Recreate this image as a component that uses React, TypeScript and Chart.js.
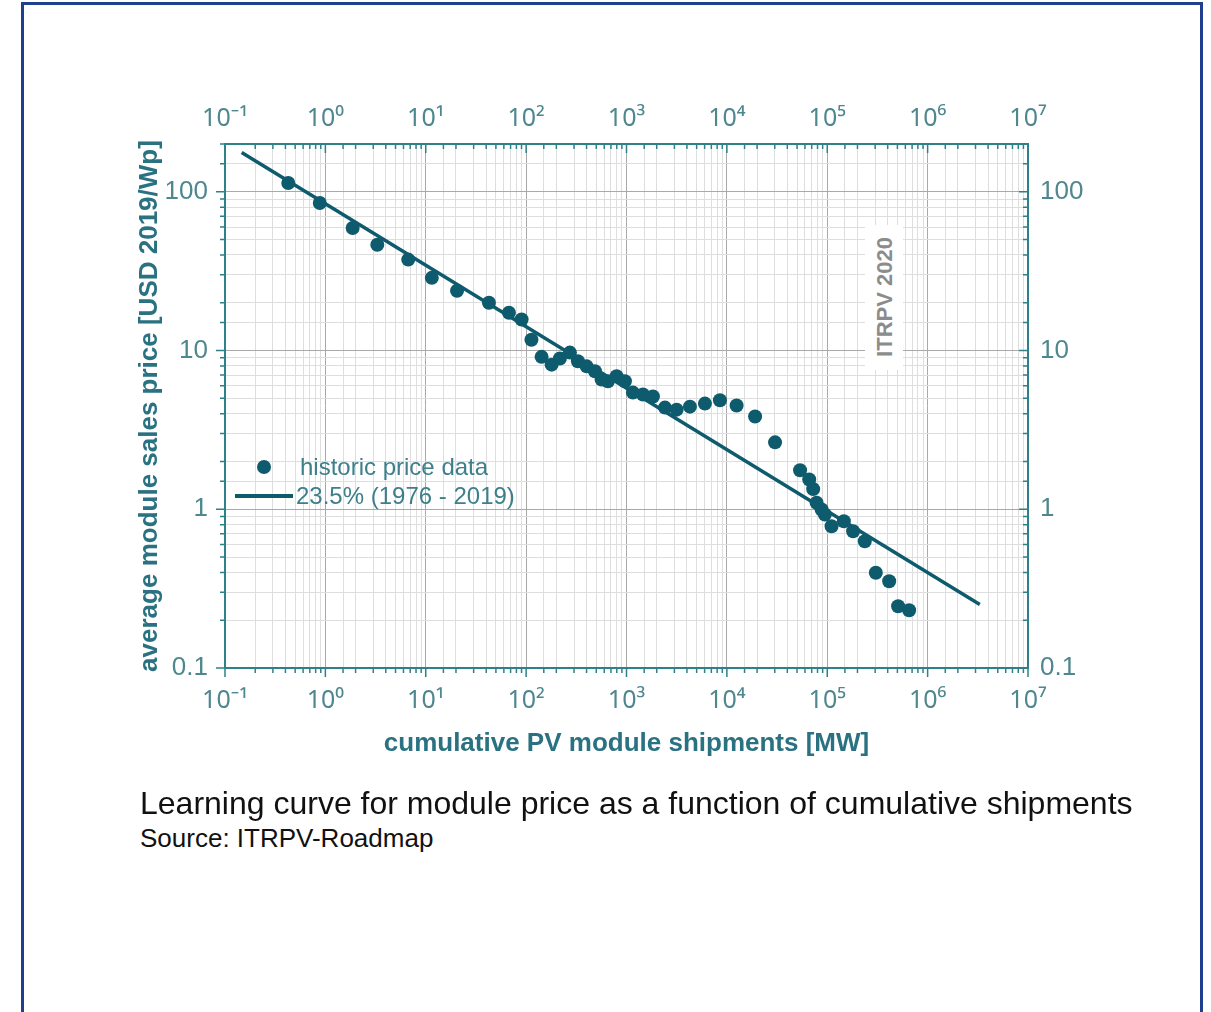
import React, { useEffect, useRef } from 'react';
import { Chart, registerables } from 'chart.js';

Chart.register(...registerables);

// Historic data
const shipmentsMW = [
  0.427, 0.88, 1.87, 3.29, 6.69, 11.5, 20.5, 42.6, 67.4, 90.2,
  113, 142.6, 179.5, 217, 273, 328, 401, 485, 565, 653,
  797, 964, 1159, 1459, 1834, 2415, 3158, 4285, 6044, 8530,
  12500, 19100, 30200, 53600, 66100, 72400, 78300, 87800, 94700, 110400,
  146300, 181000, 236600, 304600, 413800, 508000, 654000,
];
const priceUSD = [
  113.6, 85, 59.2, 46.4, 37.4, 28.7, 23.8, 20, 17.3, 15.7,
  11.7, 9.12, 8.15, 8.9, 9.7, 8.55, 7.95, 7.4, 6.56, 6.4,
  6.88, 6.4, 5.43, 5.28, 5.13, 4.37, 4.24, 4.43, 4.63, 4.86,
  4.5, 3.84, 2.64, 1.76, 1.54, 1.34, 1.1, 0.996, 0.926, 0.782,
  0.84, 0.727, 0.629, 0.398, 0.352, 0.245, 0.231,
];
// Learning-curve fit line (23.5 %)
const fitShipmentsMW = [0.1466, 3.31e6];
const fitPriceUSD = [177, 0.251];

const seriesLabels = ['historic price data', '23.5% (1976 - 2019)'];

const xTickValues = [0.1, 1, 10, 100, 1e3, 1e4, 1e5, 1e6, 1e7];
const xTickLabels = ['10⁻¹', '10⁰', '10¹', '10²', '10³', '10⁴', '10⁵', '10⁶', '10⁷'];
const yTickValues = [0.1, 1, 10, 100];
const yTickLabels = ['0.1', '1', '10', '100'];

const xTitle = 'cumulative PV module shipments [MW]';
const yTitle = 'average module sales price [USD 2019/Wp]';
const watermark = 'ITRPV 2020';
const captionTitle = 'Learning curve for module price as a function of cumulative shipments';
const captionSource = 'Source: ITRPV-Roadmap';

const FONT = '"Liberation Sans", Arial, sans-serif';
const SUP_FONT = '"Noto Sans", "DejaVu Sans", sans-serif';
const MARK = '#0e5b6e';
const AXIS = '#2f8189';
const TICK_TXT = '#4f878f';
const TITLE_TXT = '#2a7282';
const LEGEND_TXT = '#3d7f8a';
const GRID_MAJOR = '#a9a9a9';
const GRID_MINOR = '#dedede';

const isMajor = (v: number) => {
  const l = Math.log10(v);
  return Math.abs(l - Math.round(l)) < 1e-6;
};

const labelFor = (values: number[], labels: string[]) => (value: any) => {
  const v = Number(value);
  const i = values.findIndex((t) => Math.abs(Math.log10(t) - Math.log10(v)) < 1e-6);
  return i >= 0 ? labels[i] : '';
};

const tickMarksPlugin = {
  id: 'tickMarks',
  afterDraw(chart: any) {
    const ctx = chart.ctx;
    const { left, right, top, bottom } = chart.chartArea;
    ctx.save();
    ctx.strokeStyle = AXIS;
    ctx.lineWidth = 1.5;
    ctx.beginPath();
    const each = (id: string, fn: (p: number, len: number) => void) => {
      const s = chart.scales[id];
      s.ticks.forEach((t: any) => {
        const p = s.getPixelForValue(t.value);
        fn(p, isMajor(t.value) ? 9 : 5);
      });
    };
    each('x', (p, len) => { ctx.moveTo(p, bottom); ctx.lineTo(p, bottom + len); });
    each('x2', (p, len) => { ctx.moveTo(p, top); ctx.lineTo(p, top + len); });
    each('y', (p, len) => { ctx.moveTo(left, p); ctx.lineTo(left - len, p); });
    each('y2', (p, len) => { ctx.moveTo(right, p); ctx.lineTo(right - len, p); });
    ctx.stroke();
    ctx.restore();
  },
};

export default function App() {
  const canvasRef = useRef<HTMLCanvasElement | null>(null);

  useEffect(() => {
    if (!canvasRef.current) return;
    const tickFont = { family: FONT, size: 26 };
    const xTickFont = { family: SUP_FONT, size: 25 };
    const titleFont = { family: FONT, size: 26, weight: 'bold' as const };
    const gridColor = (ctx: any) => (ctx.tick && isMajor(ctx.tick.value) ? GRID_MAJOR : GRID_MINOR);

    const chart = new Chart(canvasRef.current, {
      type: 'scatter',
      data: {
        datasets: [
          {
            label: seriesLabels[0],
            data: shipmentsMW.map((x, i) => ({ x, y: priceUSD[i] })),
            backgroundColor: MARK,
            borderColor: MARK,
            pointRadius: 7,
            pointBorderWidth: 0,
            showLine: false,
          },
          {
            label: seriesLabels[1],
            data: fitShipmentsMW.map((x, i) => ({ x, y: fitPriceUSD[i] })),
            borderColor: MARK,
            backgroundColor: MARK,
            borderWidth: 3.5,
            pointRadius: 0,
            showLine: true,
          },
        ],
      },
      options: {
        responsive: false,
        animation: false,
        layout: { padding: { left: 130, right: 50, top: 60, bottom: 32 } },
        plugins: { legend: { display: false }, tooltip: { enabled: false } },
        scales: {
          x: {
            type: 'logarithmic',
            position: 'bottom',
            min: 0.1,
            max: 1e7,
            grid: { color: gridColor, lineWidth: 1, drawTicks: false },
            border: { display: true, color: AXIS, width: 2 },
            ticks: { autoSkip: false, maxRotation: 0, padding: 18, color: TICK_TXT, font: xTickFont, callback: labelFor(xTickValues, xTickLabels) },
            title: { display: true, text: xTitle, color: TITLE_TXT, font: titleFont, padding: { top: 0, bottom: 9 } },
            afterFit: (s: any) => { s.height = 100; },
          },
          x2: {
            type: 'logarithmic',
            position: 'top',
            min: 0.1,
            max: 1e7,
            grid: { display: false, drawTicks: false },
            border: { display: true, color: AXIS, width: 2 },
            ticks: { autoSkip: false, maxRotation: 0, padding: 10, color: TICK_TXT, font: xTickFont, callback: labelFor(xTickValues, xTickLabels) },
            afterFit: (s: any) => { s.height = 84; },
          },
          y: {
            type: 'logarithmic',
            position: 'left',
            min: 0.1,
            max: 200,
            grid: { color: gridColor, lineWidth: 1, drawTicks: false },
            border: { display: true, color: AXIS, width: 2 },
            ticks: { autoSkip: false, padding: 17, color: TICK_TXT, font: tickFont, callback: labelFor(yTickValues, yTickLabels) },
            title: { display: true, text: yTitle, color: TITLE_TXT, font: titleFont, padding: { top: 4, bottom: 0 } },
            afterFit: (s: any) => { s.width = 95; },
          },
          y2: {
            type: 'logarithmic',
            position: 'right',
            min: 0.1,
            max: 200,
            grid: { display: false, drawTicks: false },
            border: { display: true, color: AXIS, width: 2 },
            ticks: { autoSkip: false, padding: 12, color: TICK_TXT, font: tickFont, callback: labelFor(yTickValues, yTickLabels) },
            afterFit: (s: any) => { s.width = 133; },
          },
        },
      } as any,
      plugins: [tickMarksPlugin],
    });
    return () => chart.destroy();
  }, []);

  const abs = (s: React.CSSProperties): React.CSSProperties => ({ position: 'absolute', ...s });

  return (
    <div style={abs({ left: 0, top: 0, width: 1211, height: 1012, overflow: 'hidden', background: '#fff', fontFamily: FONT })}>
      <div style={abs({ left: 21, top: 2, width: 1182, height: 1100, border: '3px solid #213f8d', boxSizing: 'border-box' })} />
      <canvas ref={canvasRef} width={1211} height={800} style={abs({ left: 0, top: 0, width: 1211, height: 800 })} />
      {/* legend */}
      <div style={abs({ left: 257, top: 460, width: 14, height: 14, borderRadius: '50%', background: MARK })} />
      <div style={abs({ left: 300, top: 452, fontSize: 24, lineHeight: '30px', color: LEGEND_TXT, whiteSpace: 'nowrap' })}>{seriesLabels[0]}</div>
      <div style={abs({ left: 235, top: 494, width: 58, height: 3.5, background: MARK })} />
      <div style={abs({ left: 296, top: 481, fontSize: 24, lineHeight: '30px', color: LEGEND_TXT, whiteSpace: 'nowrap' })}>{seriesLabels[1]}</div>
      {/* watermark */}
      <div style={abs({ left: 865, top: 225, width: 38, height: 145, background: '#fff' })} />
      <div style={abs({ left: 885, top: 297, transform: 'translate(-50%, -50%) rotate(-90deg)', fontSize: 22, fontWeight: 'bold', lineHeight: '26px', color: '#8c8c8c', whiteSpace: 'nowrap' })}>{watermark}</div>
      {/* caption */}
      <div style={abs({ left: 140, top: 787, fontSize: 32, lineHeight: '32px', color: '#111', whiteSpace: 'nowrap' })}>{captionTitle}</div>
      <div style={abs({ left: 140, top: 825, fontSize: 26, lineHeight: '26px', color: '#111', whiteSpace: 'nowrap' })}>{captionSource}</div>
    </div>
  );
}
